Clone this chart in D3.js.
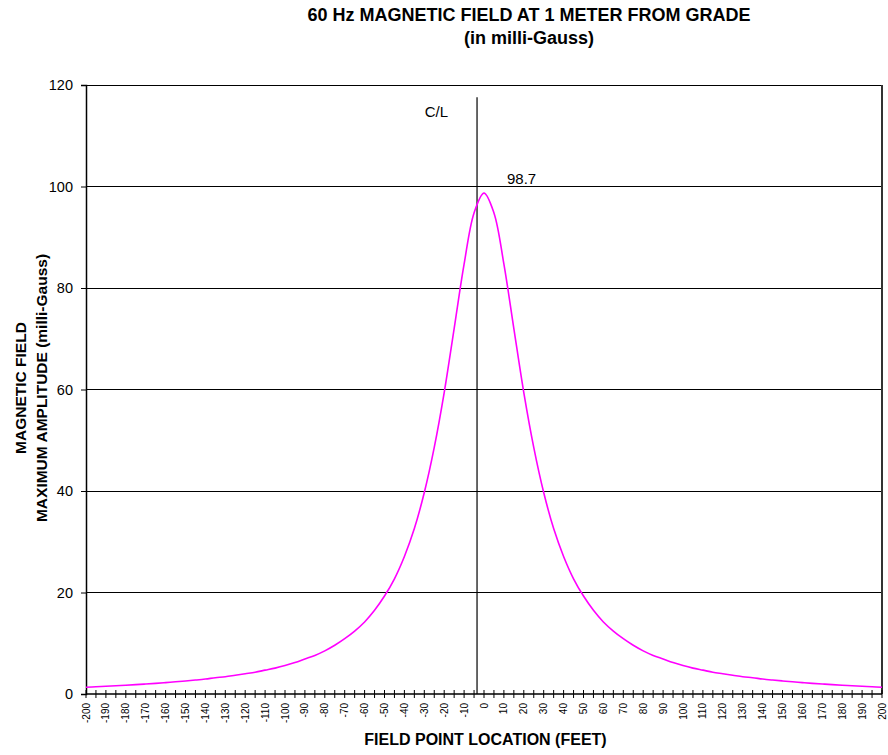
<!DOCTYPE html>
<html>
<head>
<meta charset="utf-8">
<script src="https://cdn.jsdelivr.net/npm/d3@7"></script>
<style>
  html, body { margin: 0; padding: 0; background: #fff; }
  svg { display: block; font-family: "Liberation Sans", Arial, sans-serif; }
</style>
</head>
<body>
<svg id="chart" width="888" height="755"></svg>
<script>
// ---- data ----
const titleLines = ["60 Hz MAGNETIC FIELD AT 1 METER FROM GRADE", "(in milli-Gauss)"];
const yTitleLines = ["MAGNETIC FIELD", "MAXIMUM AMPLITUDE (milli-Gauss)"];
const xTitle = "FIELD POINT LOCATION (FEET)";

const locations = [-200,-195,-190,-185,-180,-175,-170,-165,-160,-155,-150,-145,-140,-135,-130,-125,-120,-115,-110,-105,-100,-95,-90,-85,-80,-75,-70,-65,-60,-55,-50,-45,-40,-35,-30,-25,-20,-15,-10,-5,0,5,10,15,20,25,30,35,40,45,50,55,60,65,70,75,80,85,90,95,100,105,110,115,120,125,130,135,140,145,150,155,160,165,170,175,180,185,190,195,200];

const fieldValues = [1.32,1.42,1.52,1.62,1.73,1.85,1.97,2.10,2.25,2.40,2.57,2.75,2.95,3.2,3.4,3.7,4.0,4.3,4.7,5.1,5.6,6.2,6.9,7.6,8.5,9.6,10.9,12.4,14.2,16.5,19.3,22.7,27.1,32.6,39.7,48.6,59.4,72.0,84.7,94.8,98.7,94.8,84.7,72.0,59.4,48.6,39.7,32.6,27.1,22.7,19.3,16.5,14.2,12.4,10.9,9.6,8.5,7.6,6.9,6.2,5.6,5.1,4.7,4.3,4.0,3.7,3.4,3.2,2.95,2.75,2.57,2.40,2.25,2.10,1.97,1.85,1.73,1.62,1.52,1.42,1.32];

const xTickLabels = [-200,-190,-180,-170,-160,-150,-140,-130,-120,-110,-100,-90,-80,-70,-60,-50,-40,-30,-20,-10,0,10,20,30,40,50,60,70,80,90,100,110,120,130,140,150,160,170,180,190,200];
const yTickLabels = [0,20,40,60,80,100,120];

const centerLineX = -3.5;     // C/L marker location (ft)
const centerLineTop = 117.6;  // top of C/L line in mG
const centerLabel = "C/L";
const peakValue = 98.7;
const peakLocation = 0;

// ---- layout ----
const svg = d3.select("#chart");
const L = 86, R = 882, T = 85, B = 694;

const x = d3.scaleLinear().domain([-200, 200]).range([L, R]);
const y = d3.scaleLinear().domain([0, 120]).range([B, T]);

// gridlines
svg.append("g").selectAll("line").data(yTickLabels.filter(v => v > 0)).join("line")
  .attr("x1", L).attr("x2", R)
  .attr("y1", d => y(d)).attr("y2", d => y(d))
  .attr("stroke", "#000").attr("stroke-width", 1).attr("shape-rendering", "crispEdges");

// right border
svg.append("line").attr("x1", R).attr("x2", R).attr("y1", T).attr("y2", B)
  .attr("stroke", "#333").attr("stroke-width", 2);

// y axis
const yAxis = d3.axisLeft(y).tickValues(yTickLabels).tickSize(5).tickPadding(8).tickFormat(d3.format("d"));
const gy = svg.append("g").attr("transform", `translate(${L},0)`).call(yAxis);
gy.select(".domain").attr("stroke", "#000").attr("stroke-width", 1.5);
gy.selectAll(".tick line").attr("stroke", "#000");
gy.selectAll(".tick text").attr("font-size", "14.5px").attr("fill", "#000")
  .attr("font-family", "Liberation Sans, Arial, sans-serif");

// x axis: minor ticks at every location (crossing), labels every 10
const gx = svg.append("g").attr("transform", `translate(0,${B})`);
gx.append("line").attr("x1", L).attr("x2", R).attr("y1", 0).attr("y2", 0)
  .attr("stroke", "#000").attr("stroke-width", 1.5);
gx.selectAll("line.tk").data(locations).join("line").attr("class", "tk")
  .attr("x1", d => x(d)).attr("x2", d => x(d)).attr("y1", -4).attr("y2", 4)
  .attr("stroke", "#000").attr("stroke-width", 1);
gx.selectAll("text").data(xTickLabels).join("text")
  .attr("transform", d => `translate(${x(d) + 3.5},9) rotate(-90)`)
  .attr("text-anchor", "end")
  .attr("font-size", "10px").attr("fill", "#000")
  .text(d => d);

// C/L line
svg.append("line")
  .attr("x1", x(centerLineX)).attr("x2", x(centerLineX))
  .attr("y1", y(centerLineTop)).attr("y2", B)
  .attr("stroke", "#000").attr("stroke-width", 1.2);
svg.append("text").attr("x", x(centerLineX) - 29).attr("y", y(centerLineTop) + 20)
  .attr("text-anchor", "end")
  .attr("font-size", "15px").attr("fill", "#000").text(centerLabel);

// curve
const line = d3.line().x((d, i) => x(locations[i])).y(d => y(d)).curve(d3.curveCatmullRom.alpha(0.5));
svg.append("path").datum(fieldValues).attr("d", line)
  .attr("fill", "none").attr("stroke", "#ff00ff").attr("stroke-width", 1.6);

// peak label
svg.append("text").attr("x", x(peakLocation) + 23).attr("y", y(peakValue) - 9)
  .attr("font-size", "15px").attr("fill", "#000").text(d3.format(".1f")(peakValue));

// titles
svg.append("g").selectAll("text").data(titleLines).join("text")
  .attr("x", 529).attr("y", (d, i) => 21 + i * 23)
  .attr("text-anchor", "middle").attr("font-size", "18px").attr("font-weight", "bold")
  .attr("fill", "#000").text(d => d);

svg.append("g").selectAll("text").data(yTitleLines).join("text")
  .attr("transform", (d, i) => `translate(${25.5 + i * 21.5},388) rotate(-90)`)
  .attr("text-anchor", "middle").attr("font-size", "15.5px").attr("font-weight", "bold")
  .attr("fill", "#000").text(d => d);

svg.append("text").attr("x", 485.5).attr("y", 745)
  .attr("text-anchor", "middle").attr("font-size", "16px").attr("font-weight", "bold")
  .attr("fill", "#000").text(xTitle);
</script>
</body>
</html>
